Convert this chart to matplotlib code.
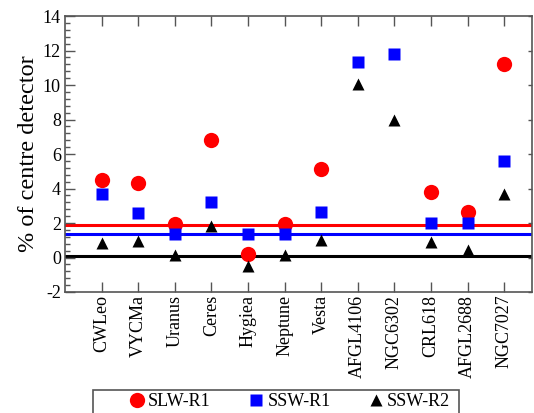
import matplotlib.pyplot as plt
from matplotlib.patches import Rectangle
from matplotlib.ticker import MultipleLocator

# sources and measured percentages
sources = ['CWLeo', 'VYCMa', 'Uranus', 'Ceres', 'Hygiea', 'Neptune', 'Vesta',
           'AFGL4106', 'NGC6302', 'CRL618', 'AFGL2688', 'NGC7027']
slw_r1 = [4.52, 4.32, 1.94, 6.80, 0.22, 1.94, 5.16, None, None, 3.80, 2.63, 11.2]
ssw_r1 = [3.70, 2.58, 1.35, 3.22, 1.35, 1.35, 2.63, 11.35, 11.82, 1.99, 1.99, 5.58]
ssw_r2 = [0.83, 0.97, 0.16, 1.80, -0.47, 0.16, 0.99, 10.08, 8.0, 0.89, 0.45, 3.68]

# reference levels
slw_level = 1.9
ssw1_level = 1.35
ssw2_level = 0.1

plt.rcParams['font.family'] = ['Liberation Serif', 'DejaVu Serif']
plt.rcParams['axes.unicode_minus'] = False

fig = plt.figure(figsize=(5.34, 4.13), dpi=100)
ax = fig.add_axes([0.1217, 0.293, 0.8745, 0.668])

x = list(range(1, len(sources) + 1))
xs = [i for i, v in zip(x, slw_r1) if v is not None]
ys = [v for v in slw_r1 if v is not None]

ax.axhline(slw_level, color='#ff0000', lw=2.2, zorder=1)
ax.axhline(ssw1_level, color='#0000ff', lw=2.2, zorder=1)
ax.axhline(ssw2_level, color='black', lw=2.2, zorder=1)

ax.plot(xs, ys, 'o', color='#ff0000', ms=11, mec='none', label='SLW-R1', zorder=3)
ax.plot(x, ssw_r1, 's', color='#0000ff', ms=8.8, mec='none', label='SSW-R1', zorder=3)
ax.plot(x, ssw_r2, '^', color='black', ms=9, mec='none', label='SSW-R2', zorder=3)

ax.set_xlim(0, 12.76)
ax.set_ylim(-2, 14)
ax.set_xticks(x)
ax.set_xticklabels(sources, rotation=90, fontsize=13)
ax.yaxis.set_major_locator(MultipleLocator(2))
ax.yaxis.set_minor_locator(MultipleLocator(0.4))
ax.tick_params(axis='y', which='major', direction='in', length=7, width=1,
               color='#555555', labelsize=13, right=True, pad=3)
ax.tick_params(axis='y', which='minor', direction='in', length=3.5, width=1,
               color='#555555', right=False)
ax.tick_params(axis='x', which='major', direction='in', length=7, width=1,
               color='#555555', top=True, pad=2)
ax.set_ylabel('% of centre detector', fontsize=17.5, labelpad=3)

for s in ax.spines.values():
    s.set_color('#555555')
    s.set_linewidth(1.2)

# right-side ticks are short
for t in ax.yaxis.get_major_ticks():
    t.tick2line.set_markersize(3)

# legend box runs off the bottom of the figure
box = Rectangle((93 / 534, -0.05), (459 - 93) / 534, 0.05 + 23 / 413,
                transform=fig.transFigure, fill=False, edgecolor='#555555',
                linewidth=1.2, clip_on=False)
fig.patches.append(box)

fig.legend(loc='center left', bbox_to_anchor=(127.7 / 534, 11 / 413), ncol=3,
           frameon=False, fontsize=13, handletextpad=0.13, columnspacing=2.0,
           borderpad=0, borderaxespad=0, handlelength=1.0)

fig.savefig('out.png', dpi=100)
